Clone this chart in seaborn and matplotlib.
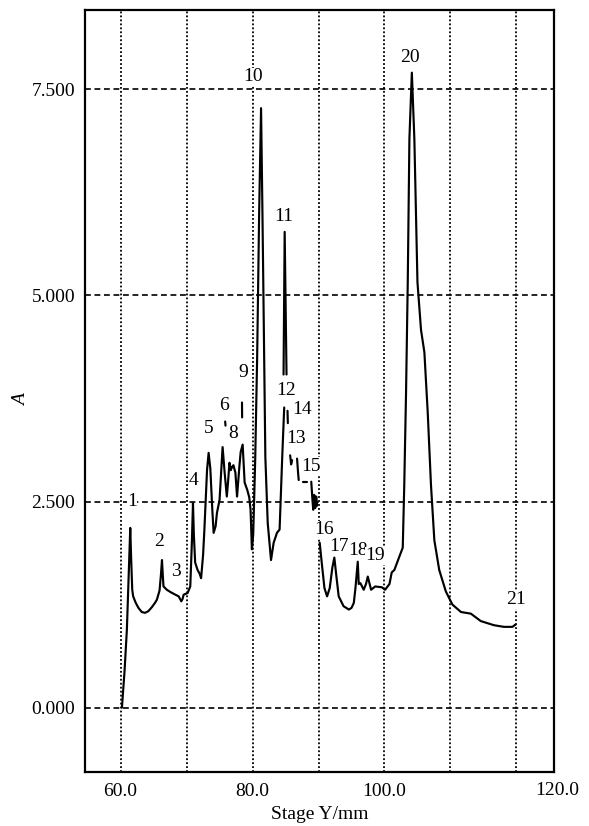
import numpy as np
import pandas as pd
import matplotlib
matplotlib.use("Agg")
import matplotlib.pyplot as plt
import seaborn as sns

# ---- data (Stage Y / mm, absorbance A) ----
seg_main_x = [60.2, 60.6, 60.95, 61.2, 61.46, 61.6, 61.76, 61.9, 62.3, 62.7, 63.2, 63.7, 64.2, 64.75,
              65.2, 65.5, 65.9, 66.1, 66.27, 66.4, 66.5, 67.0, 67.6, 68.3, 68.8, 69.0, 69.2, 69.4, 69.55,
              70.15, 70.56, 70.8, 70.97, 71.1, 71.3, 71.67, 72.0, 72.2, 72.5, 72.7, 73.1, 73.34, 73.6,
              73.9, 74.1, 74.4, 74.6, 75.0, 75.2, 75.46, 75.77, 76.1, 76.3, 76.5, 76.7, 76.9, 77.1, 77.4,
              77.65, 78.0, 78.2, 78.5, 78.8, 79.2, 79.5, 79.7, 79.9, 80.1, 80.4, 80.7, 81.0, 81.29, 81.5,
              81.7, 81.94, 82.3, 82.8, 83.2, 83.7, 84.1, 84.5, 84.8]
seg_main_y = [0.0, 0.45, 0.95, 1.55, 2.18, 1.8, 1.43, 1.35, 1.27, 1.21, 1.16, 1.15, 1.17, 1.22,
              1.27, 1.31, 1.42, 1.6, 1.79, 1.6, 1.47, 1.43, 1.40, 1.37, 1.35, 1.32, 1.29, 1.32, 1.37,
              1.39, 1.47, 2.0, 2.48, 2.1, 1.76, 1.67, 1.62, 1.57, 1.85, 2.16, 2.88, 3.09, 2.9,
              2.4, 2.12, 2.2, 2.36, 2.52, 2.8, 3.16, 2.85, 2.56, 2.75, 2.97, 2.88, 2.92, 2.94, 2.85,
              2.56, 2.92, 3.1, 3.19, 2.73, 2.64, 2.55, 2.40, 1.92, 2.1, 3.0, 4.26, 6.0, 7.27, 6.0,
              4.67, 3.04, 2.24, 1.79, 2.0, 2.12, 2.16, 3.04, 3.64]

seg_p7_x = [75.85, 75.9]
seg_p7_y = [3.47, 3.42]
seg_p9_x = [78.4, 78.42]
seg_p9_y = [3.70, 3.52]
seg_p11_x = [84.7, 84.87, 85.15]
seg_p11_y = [4.04, 5.77, 4.04]
seg_p14_x = [85.3, 85.35]
seg_p14_y = [3.60, 3.45]
seg_p13_x = [85.7, 85.85, 86.0]
seg_p13_y = [3.06, 2.95, 3.00]
seg_s1_x = [86.75, 86.9, 87.0]
seg_s1_y = [3.02, 2.85, 2.76]
seg_p15_x = [87.7, 88.2]
seg_p15_y = [2.74, 2.74]
seg_s2_x = [88.9, 89.1, 89.2, 89.35, 89.5, 89.65, 89.8]
seg_s2_y = [2.74, 2.5, 2.40, 2.58, 2.42, 2.56, 2.45]

seg_tail_x = [90.18, 90.5, 90.9, 91.3, 91.7, 92.1, 92.4, 92.7, 93.06, 93.8, 94.6, 95.0, 95.35, 95.6,
              95.95, 96.1, 96.35, 96.85, 97.2, 97.47, 97.97, 98.6, 99.6, 100.1, 100.76, 101.1, 101.5,
              102.2, 102.77, 103.0, 103.27, 103.53, 103.78, 104.15, 104.53, 105.0, 105.54, 106.05,
              106.55, 107.05, 107.56, 108.3, 109.3, 110.3, 111.6, 113.1, 114.6, 116.6, 118.1, 119.4, 119.9]
seg_tail_y = [2.0, 1.75, 1.45, 1.35, 1.45, 1.7, 1.82, 1.6, 1.35, 1.23, 1.19, 1.21, 1.27, 1.45,
              1.77, 1.5, 1.51, 1.43, 1.5, 1.59, 1.43, 1.47, 1.46, 1.43, 1.50, 1.64, 1.67,
              1.82, 1.94, 2.70, 3.82, 5.16, 6.9, 7.70, 6.9, 5.16, 4.58, 4.31,
              3.59, 2.70, 2.03, 1.67, 1.41, 1.25, 1.16, 1.14, 1.05, 1.00, 0.98, 0.98, 1.01]

peak_labels = ["1", "2", "3", "4", "5", "6", "8", "9", "10", "11", "12", "14", "13", "15",
               "16", "17", "18", "19", "20", "21"]
peak_label_x = [61.7, 65.8, 68.4, 71.1, 73.4, 75.7, 77.1, 78.6, 80.1, 84.65, 85.1, 87.5, 86.6, 88.9,
                90.9, 93.1, 96.0, 98.6, 103.9, 119.9]
peak_label_y = [2.50, 2.02, 1.65, 2.75, 3.39, 3.67, 3.33, 4.06, 7.65, 5.96, 3.85, 3.62, 3.27, 2.93,
                2.16, 1.95, 1.90, 1.84, 7.89, 1.31]

x_major = [60, 80, 100, 120]
x_major_labels = ["60.0", "80.0", "100.0", ""]
x_minor = [70, 90, 110]
y_major = [0.0, 2.5, 5.0, 7.5]
y_major_labels = ["0.000", "2.500", "5.000", "7.500"]

segments = [(seg_main_x, seg_main_y), (seg_p7_x, seg_p7_y), (seg_p9_x, seg_p9_y),
            (seg_p11_x, seg_p11_y), (seg_p14_x, seg_p14_y), (seg_p13_x, seg_p13_y),
            (seg_s1_x, seg_s1_y), (seg_p15_x, seg_p15_y), (seg_s2_x, seg_s2_y),
            (seg_tail_x, seg_tail_y)]
frames = []
for i, (sx, sy) in enumerate(segments):
    frames.append(pd.DataFrame({"x": sx, "y": sy, "seg": i}))
df = pd.concat(frames, ignore_index=True)

sns.set_theme(style="white")
plt.rcParams["font.family"] = ["Liberation Serif", "DejaVu Serif"]

FS = 14

fig = plt.figure(figsize=(5.89, 8.26), dpi=100)
fig.patch.set_facecolor("white")
ax = fig.add_axes([85 / 589, 54 / 826, 469 / 589, 762 / 826])
ax.set_facecolor("white")

sns.lineplot(data=df, x="x", y="y", units="seg", estimator=None, sort=False,
             color="black", lw=1.55, ax=ax, legend=False, zorder=3)

ax.set_xlim(54.6, 125.7)
ax.set_ylim(-0.78, 8.46)

ax.set_xticks(x_major, x_major_labels)
ax.set_xticks(x_minor, minor=True)
ax.set_yticks(y_major, y_major_labels)

ax.grid(axis="x", which="both", ls=(0, (1, 1.2)), color="black", lw=1.3, zorder=1)
ax.grid(axis="y", which="major", ls=(0, (3.5, 2.2)), color="black", lw=1.2, zorder=1)

ax.tick_params(axis="x", which="major", direction="in", length=5, width=1.2, color="black",
               labelsize=FS, pad=8, labelcolor="black")
ax.tick_params(axis="x", which="minor", length=0)
ax.tick_params(axis="y", which="major", direction="out", length=4, width=1.0, color="black",
               labelsize=FS, pad=3, labelcolor="black")

ax.annotate("120.0", xy=(1.0, 0.0), xycoords="axes fraction", xytext=(2, -13.5),
            textcoords="offset points", ha="center", va="center", fontsize=FS, color="black")

for s in ax.spines.values():
    s.set_visible(True)
    s.set_color("black")
    s.set_linewidth(1.6)

ax.set_xlabel("Stage Y/mm", fontsize=FS, color="black", labelpad=4)
ax.set_ylabel("A", fontsize=FS, style="italic", color="black")
ax.yaxis.set_label_coords(-0.118, 0.488)

for lab, lx, ly in zip(peak_labels, peak_label_x, peak_label_y):
    ax.text(lx, ly, lab, ha="center", va="center", fontsize=FS, color="black", zorder=4,
            bbox=dict(facecolor="white", edgecolor="none", pad=0.3))

fig.savefig("out.png", dpi=100, facecolor="white")
